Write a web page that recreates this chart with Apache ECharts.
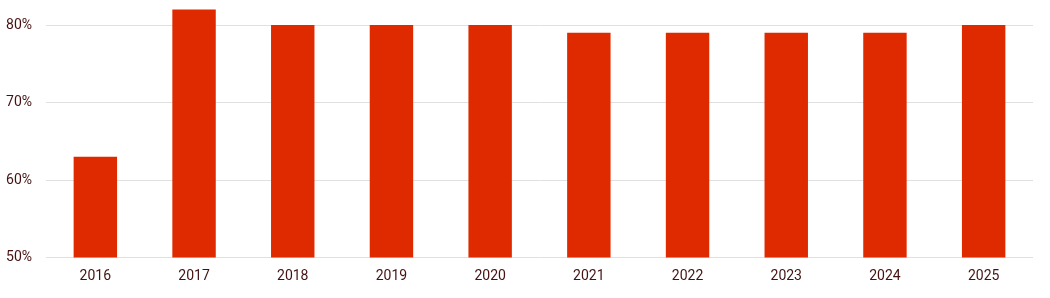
<!DOCTYPE html>
<html><head><meta charset="utf-8">
<script src="https://cdn.jsdelivr.net/npm/echarts@6/dist/echarts.min.js"></script>
<style>html,body{margin:0;padding:0;background:#fff}#c{width:1050px;height:298px}</style>
</head><body><div id="c"></div>
<script>
const categories = ['2016','2017','2018','2019','2020','2021','2022','2023','2024','2025'];
const values = [63, 82, 80, 80, 80, 79, 79, 79, 79, 80];
const yMin = 50, yMax = 82, yStep = 10;

const chart = echarts.init(document.getElementById('c'));
chart.setOption({
  animation: false,
  grid: {left: 46, right: 17, top: 9.5, bottom: 40.5, containLabel: false},
  xAxis: {
    type: 'category', data: categories,
    axisLine: {show: false}, axisTick: {show: false},
    axisLabel: {color: '#451212', fontFamily: 'Roboto', fontSize: 14, margin: 12}
  },
  yAxis: {
    type: 'value', min: yMin, max: yMax, interval: yStep,
    axisLine: {show: false}, axisTick: {show: false},
    axisLabel: {color: '#451212', fontFamily: 'Roboto', fontSize: 14, margin: 14,
      showMaxLabel: false,
      formatter: v => (v % 10 === 0 ? v + '%' : '')},
    splitLine: {show: true, showMaxLine: false, lineStyle: {color: '#e0e0e0', width: 1}}
  },
  series: [{
    type: 'bar', data: values, barWidth: '44%',
    itemStyle: {color: '#df2a00'}
  }]
});
</script></body></html>
